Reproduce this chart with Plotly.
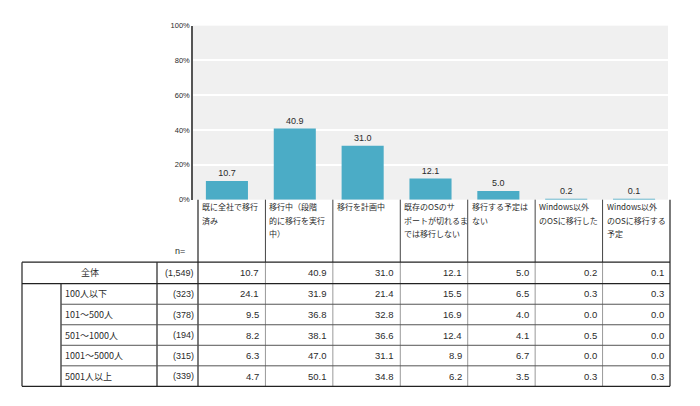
import plotly.graph_objects as go

# --- data ---
categories = [
    "既に全社で移行\n済み",
    "移行中（段階\n的に移行を実行\n中）",
    "移行を計画中",
    "既存のOSのサ\nポートが切れるま\nでは移行しない",
    "移行する予定は\nない",
    "Windows以外\nのOSに移行した",
    "Windows以外\nのOSに移行する\n予定",
]
overall_label = "全体"
overall_n = "1,549"
overall_values = [10.7, 40.9, 31.0, 12.1, 5.0, 0.2, 0.1]

segments = ["100人以下", "101～500人", "501～1000人", "1001～5000人", "5001人以上"]
segment_n = ["323", "378", "194", "315", "339"]
segment_values = [
    [24.1, 31.9, 21.4, 15.5, 6.5, 0.3, 0.3],
    [9.5, 36.8, 32.8, 16.9, 4.0, 0.0, 0.0],
    [8.2, 38.1, 36.6, 12.4, 4.1, 0.5, 0.0],
    [6.3, 47.0, 31.1, 8.9, 6.7, 0.0, 0.0],
    [4.7, 50.1, 34.8, 6.2, 3.5, 0.3, 0.3],
]
y_ticks = [0, 20, 40, 60, 80, 100]

# the page puts the figure 8px in from the top-left corner
OFF = 8
W, H = 700 - OFF, 406 - OFF
BAR_COLOR = "#4bacc6"
TXT = "#2b2b2b"
FONT = "Liberation Sans, Arial, Noto Sans CJK JP"
JFONT = "Noto Sans CJK JP, Liberation Sans"


def px(x):
    return (x - OFF) / W


def py(y):
    return 1 - (y - OFF) / H


fig = go.Figure()
fig.add_trace(go.Bar(
    x=list(range(len(categories))), y=overall_values,
    marker_color=BAR_COLOR, marker_line_width=0,
    text=[f"{v:.1f}" for v in overall_values], textposition="outside",
    textfont=dict(size=9, color=TXT, family=FONT), cliponaxis=False,
))

fig.update_layout(
    width=W, height=H, margin=dict(l=0, r=0, t=0, b=0),
    paper_bgcolor="white", plot_bgcolor="#f0f0f0",
    showlegend=False, bargap=0.38,
    font=dict(family=FONT, color=TXT),
    xaxis=dict(domain=[px(193), px(668)], range=[-0.5, len(categories) - 0.5],
               showticklabels=False, showgrid=False, zeroline=False),
    yaxis=dict(domain=[py(200), py(22)], range=[0, 100],
               tickvals=y_ticks, ticktext=[f"{v}%" for v in y_ticks],
               tickfont=dict(size=7.5, color=TXT), ticks="", ticklen=0,
               showgrid=True, gridcolor="white", gridwidth=1.5, zeroline=False,
               showline=True, linecolor="#555555", linewidth=1.5),
)

# --- table geometry (pixels in the page) ---
x_left, x_seg, x_n, x_data, x_right = 22, 61, 157, 198, 670
col_w = (x_right - x_data) / len(categories)
col_x = [x_data + i * col_w for i in range(len(categories) + 1)]
y_head, y_top, y_all = 200, 264, 286
row_h = 21
row_y = [y_all + i * row_h for i in range(len(segments) + 1)]

shapes = []


def line(x0, y0, x1, y1, color, width):
    shapes.append(dict(type="line", xref="paper", yref="paper",
                       x0=px(x0), y0=py(y0), x1=px(x1), y1=py(y1),
                       line=dict(color=color, width=width)))


# column separators
for i, cx in enumerate(col_x):
    if i == 0 or i == len(col_x) - 1:
        line(cx, y_head, cx, row_y[-1], "#222222", 1.2)
    else:
        line(cx, y_head, cx, y_top, "#444444", 1)
        line(cx, y_top, cx, row_y[-1], "#999999", 1)
line(x_left, y_top, x_left, row_y[-1], "#222222", 1.2)
line(x_seg, y_all, x_seg, row_y[-1], "#222222", 1.2)
line(x_n, y_top, x_n, row_y[-1], "#222222", 1.2)
# horizontal lines
line(x_left, y_top, x_right, y_top, "#222222", 1.2)
line(x_left, y_all, x_right, y_all, "#222222", 1.2)
for ry in row_y[1:-1]:
    line(x_seg, ry, x_right, ry, "#555555", 1)
line(x_left, row_y[-1], x_right, row_y[-1], "#222222", 1.2)
fig.update_layout(shapes=shapes)

ann = []


def text(x, y, s, xanchor, size=9.5, family=FONT):
    ann.append(dict(xref="paper", yref="paper", x=px(x), y=py(y), text=s,
                    showarrow=False, xanchor=xanchor, yanchor="middle",
                    font=dict(size=size, color=TXT, family=family)))


# category header labels, one line at a time
for i, label in enumerate(categories):
    for j, part in enumerate(label.split("\n")):
        text(col_x[i] + 2, 207 + j * 14, part, "left", size=8, family=JFONT)

text(180, 253, "n=", "center", size=9)

# overall row
ry = (y_top + y_all) / 2
text((x_left + x_n) / 2, ry, overall_label, "center", size=9, family=JFONT)
text(x_data - 2, ry, f"({overall_n})", "right", size=9)
for i, v in enumerate(overall_values):
    text(col_x[i + 1] - 4, ry, f"{v:.1f}", "right")

# segment rows
for r, seg in enumerate(segments):
    ry = (row_y[r] + row_y[r + 1]) / 2
    text(x_seg + 2, ry, seg, "left", size=9, family=JFONT)
    text(x_data - 2, ry, f"({segment_n[r]})", "right", size=9)
    for i, v in enumerate(segment_values[r]):
        text(col_x[i + 1] - 4, ry, f"{v:.1f}", "right")

fig.update_layout(annotations=ann)
fig.write_html("out.html")
